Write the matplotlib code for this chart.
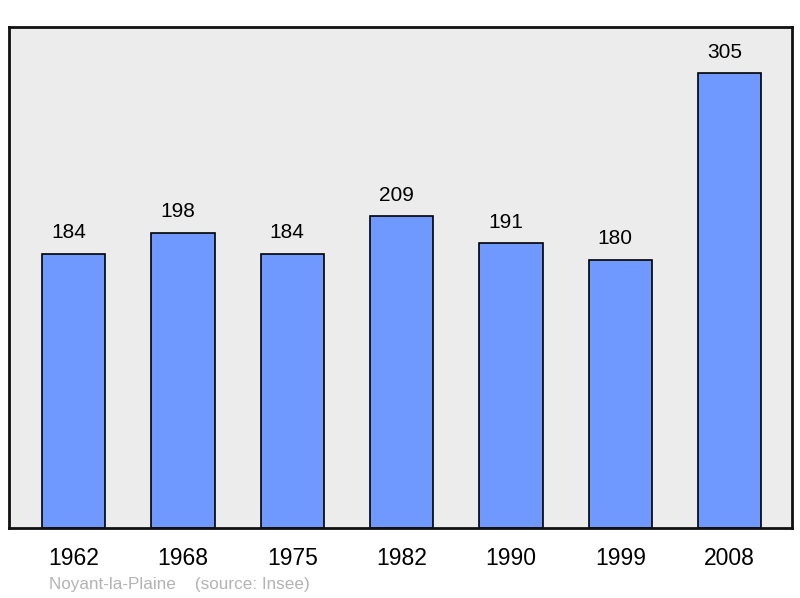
import matplotlib.pyplot as plt
import numpy as np
from matplotlib.transforms import offset_copy

# Population de Noyant-la-Plaine
years = ['1962', '1968', '1975', '1982', '1990', '1999', '2008']
population = [184, 198, 184, 209, 191, 180, 305]

plt.rcParams['font.family'] = ['Liberation Sans', 'DejaVu Sans']

fig = plt.figure(figsize=(8, 5.98), dpi=100)
ax = fig.add_axes([9 / 800, 1 - 528 / 598, 783 / 800, 501 / 598])
ax.set_facecolor('#ececec')

x = np.arange(len(years))
bars = ax.bar(x, population, width=0.58, color='#7099ff', edgecolor='black', linewidth=1.2)

# Valeurs au-dessus des barres (légèrement décalées à gauche)
shifted = offset_copy(ax.transData, fig=fig, x=-3.6, y=0, units='points')
for bar, val in zip(bars, population):
    ax.text(bar.get_x() + bar.get_width() / 2, val + 14, str(val),
            ha='center', va='center', fontsize=15, color='black', transform=shifted)

ax.set_xlim(-0.59, 6.57)
ax.set_ylim(0, 336)
ax.set_yticks([])
ax.set_xticks(x)
ax.set_xticklabels(years, fontsize=16.5)
ax.tick_params(axis='x', length=0, pad=14)
for s in ax.spines.values():
    s.set_linewidth(2)
    s.set_color('#111111')

fig.text(49 / 800, 1 - 584 / 598, 'Noyant-la-Plaine    (source: Insee)',
         fontsize=12.3, color='#b3b3b3', ha='left', va='center')

plt.savefig('out.png', dpi=100)
